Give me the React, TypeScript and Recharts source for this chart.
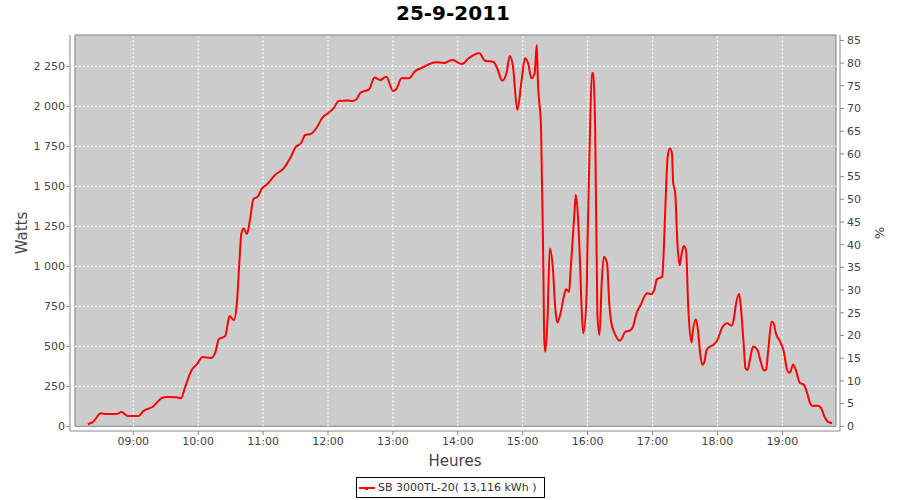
import {
  LineChart, Line, XAxis, YAxis, ReferenceArea, ReferenceLine,
} from 'recharts';

// minutes since midnight
const TIMES = [
  498, 503, 510, 515, 525, 529, 535, 545, 549, 558, 566, 571, 580, 584, 588, 594, 599, 604, 612, 616,
  619, 625, 629, 633, 636, 638, 640, 642, 645, 648, 651, 655, 659, 663, 671, 679, 685, 690, 695, 699,
  704, 710, 715, 720, 725, 730, 738, 743, 747, 750, 758, 763, 768, 774, 780, 783, 788, 795, 800, 808,
  813, 820, 827, 835, 844, 850, 860, 865, 873, 877, 881, 885, 888, 891, 895, 899, 902, 905, 908, 911,
  913, 914, 917, 919, 920, 921, 923, 925, 928, 930, 932, 935, 938, 940, 943, 944, 948, 949, 952, 955,
  956, 959, 960, 962, 964, 965, 967, 969, 971, 973, 975, 978, 980, 982, 985, 990, 995, 999, 1002, 1005,
  1009, 1015, 1019, 1022, 1024, 1029, 1030, 1032, 1034, 1036, 1038, 1039, 1041, 1043, 1045, 1047, 1049, 1051, 1053, 1056,
  1057, 1060, 1062, 1064, 1066, 1068, 1070, 1073, 1076, 1080, 1084, 1089, 1093, 1095, 1097, 1100, 1101, 1104, 1106, 1108,
  1110, 1113, 1117, 1120, 1123, 1125, 1127, 1130, 1132, 1134, 1138, 1141, 1145, 1147, 1150, 1153, 1156, 1160, 1163, 1166,
  1168, 1173, 1176, 1179, 1182, 1186,
];

const WATTS = [
  12, 29, 81, 77, 77, 89, 64, 64, 94, 122, 175, 183, 181, 175, 247, 352, 389, 433, 427, 466,
  544, 564, 689, 664, 789, 1019, 1206, 1237, 1202, 1294, 1420, 1435, 1487, 1508, 1571, 1612, 1675, 1744, 1769, 1821,
  1827, 1872, 1931, 1956, 1987, 2033, 2037, 2033, 2050, 2085, 2106, 2180, 2164, 2185, 2096, 2106, 2175, 2175, 2216, 2244,
  2262, 2275, 2271, 2289, 2264, 2300, 2331, 2285, 2277, 2227, 2160, 2206, 2314, 2248, 1977, 2164, 2300, 2269, 2175, 2206,
  2383, 2164, 1852, 1021, 528, 466, 685, 1112, 977, 748, 648, 706, 810, 856, 841, 946, 1352, 1446, 1185, 664,
  581, 810, 1185, 1789, 2210, 2206, 1852, 706, 571, 894, 1060, 1019, 769, 644, 581, 535, 591, 598, 623, 702,
  758, 831, 827, 862, 919, 935, 1039, 1394, 1685, 1737, 1706, 1529, 1456, 1144, 1006, 1081, 1127, 1098, 748, 523,
  581, 669, 602, 458, 384, 404, 477, 498, 508, 539, 612, 644, 629, 664, 758, 827, 789, 539, 362, 352,
  414, 498, 477, 404, 348, 356, 477, 654, 644, 581, 529, 477, 341, 335, 387, 341, 273, 258, 206, 139,
  127, 129, 112, 60, 29, 19,
];

const HOUR_TICKS = [540, 600, 660, 720, 780, 840, 900, 960, 1020, 1080, 1140];
const WATT_TICKS = [0, 250, 500, 750, 1000, 1250, 1500, 1750, 2000, 2250];
const PCT_TICKS = [0, 5, 10, 15, 20, 25, 30, 35, 40, 45, 50, 55, 60, 65, 70, 75, 80, 85];

const TITLE = '25-9-2011';
const SERIES_NAME = 'SB 3000TL-20( 13,116 kWh )';

const data = TIMES.map((t, i) => ({ t, watts: WATTS[i] }));

const fmtHour = (v: number) => `${String(Math.floor(v / 60)).padStart(2, '0')}:00`;
const fmtWatt = (v: number) =>
  v >= 1000 ? `${Math.floor(v / 1000)} ${String(v % 1000).padStart(3, '0')}` : `${v}`;

const FONT = '"DejaVu Sans", sans-serif';
const tickStyle = { fontSize: 11, fill: '#444', fontFamily: FONT };
const axisStroke = '#888';

export default function App() {
  return (
    <div style={{ position: 'absolute', left: 0, top: 0, width: 900, height: 500, fontFamily: FONT, background: '#fff' }}>
      <div style={{ position: 'absolute', top: 1, left: 3, width: 900, textAlign: 'center', fontSize: 20, fontWeight: 'bold', color: '#000' }}>
        {TITLE}
      </div>
      <LineChart width={900} height={500} data={data} margin={{ top: 35, right: 0, bottom: 0, left: 0 }}>
        <XAxis
          dataKey="t"
          type="number"
          domain={[481.5, 1193.3]}
          allowDataOverflow
          ticks={HOUR_TICKS}
          tickFormatter={fmtHour}
          tick={tickStyle}
          stroke={axisStroke}
          tickSize={4}
          tickMargin={2}
          height={69}
          label={{ value: 'Heures', position: 'insideBottom', offset: 34, style: { fontSize: 15, fill: '#444', fontFamily: FONT } }}
        />
        <YAxis
          yAxisId="left"
          type="number"
          domain={[-29.4, 2445.6]}
          allowDataOverflow
          ticks={WATT_TICKS}
          tickFormatter={fmtWatt}
          tick={tickStyle}
          stroke={axisStroke}
          tickSize={4}
          tickMargin={1}
          width={70}
          label={{ value: 'Watts', angle: -90, position: 'center', dx: -13, style: { fontSize: 15, fill: '#444', fontFamily: FONT } }}
        />
        <YAxis
          yAxisId="right"
          orientation="right"
          type="number"
          domain={[-1.04, 86.19]}
          allowDataOverflow
          ticks={PCT_TICKS}
          tick={tickStyle}
          stroke={axisStroke}
          tickSize={4}
          tickMargin={3}
          width={60}
          label={{ value: '%', angle: 90, position: 'center', dx: 10, style: { fontSize: 13, fill: '#444', fontFamily: FONT } }}
        />
        <ReferenceArea
          yAxisId="left"
          x1={486.1}
          x2={1189.6}
          y1={0}
          y2={2445.6}
          fill="#cccccc"
          fillOpacity={1}
          stroke="#808080"
          strokeWidth={1}
        />
        {HOUR_TICKS.map((h) => (
          <ReferenceLine
            key={`h${h}`}
            yAxisId="left"
            segment={[{ x: h, y: 0 }, { x: h, y: 2445.6 }]}
            stroke="#ffffff"
            strokeDasharray="2 2"
            strokeWidth={1}
          />
        ))}
        {WATT_TICKS.filter((w) => w > 0).map((w) => (
          <ReferenceLine
            key={`w${w}`}
            yAxisId="left"
            segment={[{ x: 486.1, y: w }, { x: 1189.6, y: w }]}
            stroke="#ffffff"
            strokeDasharray="2 2"
            strokeWidth={1}
          />
        ))}
        <Line
          yAxisId="left"
          type="monotone"
          dataKey="watts"
          stroke="#ff0000"
          strokeWidth={2}
          dot={false}
          isAnimationActive={false}
        />
      </LineChart>
      <div
        style={{
          position: 'absolute', left: 356, top: 477, width: 189, height: 21, boxSizing: 'border-box',
          border: '1px solid #000', display: 'flex', alignItems: 'center', fontSize: 11, color: '#333',
        }}
      >
        <svg width={18} height={10} style={{ marginLeft: 1, marginRight: 2 }}>
          <line x1={1} y1={5} x2={17} y2={5} stroke="#ff0000" strokeWidth={2} />
          <rect x={7} y={4} width={3} height={3} fill="#ff0000" />
        </svg>
        <span>{SERIES_NAME}</span>
      </div>
    </div>
  );
}
